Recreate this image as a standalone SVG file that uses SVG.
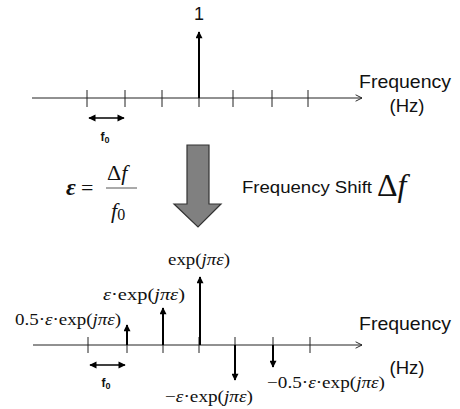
<svg xmlns="http://www.w3.org/2000/svg" width="460" height="409" viewBox="0 0 460 409">
<defs>
<marker id="tri" viewBox="0 0 10 10" refX="9" refY="5" markerWidth="4.5" markerHeight="3.5" orient="auto" markerUnits="strokeWidth">
<path d="M0,0 L10,5 L0,10 z" fill="#000"/>
</marker>
<marker id="tri2" viewBox="0 0 10 10" refX="9" refY="5" markerWidth="5" markerHeight="4.5" orient="auto-start-reverse" markerUnits="strokeWidth">
<path d="M0,0 L10,5 L0,10 z" fill="#000"/>
</marker>
<marker id="open" viewBox="0 0 10 10" refX="10" refY="5" markerWidth="8" markerHeight="8" orient="auto" markerUnits="userSpaceOnUse">
<path d="M2,1 L10,5 L2,9" fill="none" stroke="#222" stroke-width="1.2"/>
</marker>
</defs>
<style>
.axis{stroke:#222;stroke-width:1;fill:none}
.tick{stroke:#222;stroke-width:1}
.imp{stroke:#000;stroke-width:2;fill:none}
.dbl{stroke:#000;stroke-width:1.6;fill:none}
.sans{font-family:"Liberation Sans",Arial,sans-serif;fill:#111}
.math{font-family:"Liberation Serif","Times New Roman",serif;fill:#111}
.it{font-style:italic}
</style>
<rect width="460" height="409" fill="#fff"/>

<g id="top-spectrum">
<line class="axis" x1="32" y1="98" x2="362" y2="98" marker-end="url(#open)"/>
<g class="tick">
<line x1="87" y1="90" x2="87" y2="107"/>
<line x1="125" y1="90" x2="125" y2="107"/>
<line x1="162" y1="90" x2="162" y2="107"/>
<line x1="199" y1="90" x2="199" y2="107"/>
<line x1="233" y1="90" x2="233" y2="107"/>
<line x1="272" y1="90" x2="272" y2="107"/>
<line x1="308" y1="90" x2="308" y2="107"/>
</g>
<line class="imp" x1="199" y1="98" x2="199" y2="32" marker-end="url(#tri)"/>
<text class="sans" x="199" y="20" font-size="18" text-anchor="middle">1</text>
<text class="sans" x="359" y="88" font-size="18.5" textLength="92" lengthAdjust="spacingAndGlyphs">Frequency</text>
<text class="sans" x="407" y="112" font-size="18.5" text-anchor="middle">(Hz)</text>
<line class="dbl" x1="89" y1="118" x2="124" y2="118" marker-start="url(#tri2)" marker-end="url(#tri2)"/>
<text class="sans" x="105" y="141" font-size="12" font-weight="bold" text-anchor="middle">f<tspan font-size="9" dy="2">0</tspan></text>
</g>

<g id="formula">
<text class="math it" x="66" y="195" font-size="24" font-weight="bold">ε</text>
<text class="math" x="81" y="195" font-size="22">=</text>
<text class="math" x="107" y="180" font-size="22">Δ<tspan class="it">f</tspan></text>
<line x1="106" y1="188" x2="137" y2="188" stroke="#555" stroke-width="1"/>
<text class="math" x="111" y="218" font-size="22"><tspan class="it">f</tspan><tspan font-size="16" dy="2">0</tspan></text>
</g>

<g id="shift-arrow">
<path d="M187,145 L209,145 L209,204 L221,204 L198,227 L174,204 L187,204 Z" fill="#808080" stroke="#333" stroke-width="1.2"/>
</g>

<g id="shift-label">
<text class="sans" x="242" y="193" font-size="16" textLength="130" lengthAdjust="spacingAndGlyphs">Frequency Shift</text>
<text class="math" x="377" y="196" font-size="32">Δ<tspan class="it">f</tspan></text>
</g>

<g id="bottom-spectrum">
<line class="axis" x1="33" y1="345" x2="362" y2="345" marker-end="url(#open)"/>
<g class="tick">
<line x1="88" y1="337" x2="88" y2="353"/>
<line x1="127" y1="337" x2="127" y2="353"/>
<line x1="163" y1="337" x2="163" y2="353"/>
<line x1="199" y1="337" x2="199" y2="353"/>
<line x1="235" y1="337" x2="235" y2="353"/>
<line x1="273" y1="337" x2="273" y2="353"/>
<line x1="310" y1="337" x2="310" y2="353"/>
</g>
<line class="imp" x1="127" y1="345" x2="127" y2="325" marker-end="url(#tri)"/>
<line class="imp" x1="163" y1="345" x2="163" y2="308" marker-end="url(#tri)"/>
<line class="imp" x1="200" y1="345" x2="200" y2="277" marker-end="url(#tri)"/>
<line class="imp" x1="235" y1="345" x2="235" y2="380" marker-end="url(#tri)"/>
<line class="imp" x1="273" y1="345" x2="273" y2="367" marker-end="url(#tri)"/>
<text class="sans" x="359" y="330" font-size="18.5" textLength="92" lengthAdjust="spacingAndGlyphs">Frequency</text>
<text class="sans" x="407" y="374" font-size="18.5" text-anchor="middle">(Hz)</text>
<line class="dbl" x1="90" y1="365" x2="125" y2="365" marker-start="url(#tri2)" marker-end="url(#tri2)"/>
<text class="sans" x="106" y="387" font-size="12" font-weight="bold" text-anchor="middle">f<tspan font-size="9" dy="2">0</tspan></text>

<text class="math" x="168" y="265" font-size="17.5" textLength="62" lengthAdjust="spacingAndGlyphs">exp(<tspan class="it">jπε</tspan>)</text>
<text class="math" x="103" y="300" font-size="17.5" textLength="82" lengthAdjust="spacingAndGlyphs"><tspan class="it">ε</tspan>·exp(<tspan class="it">jπε</tspan>)</text>
<text class="math" x="15" y="325" font-size="17.5" textLength="106" lengthAdjust="spacingAndGlyphs">0.5·<tspan class="it">ε</tspan>·exp(<tspan class="it">jπε</tspan>)</text>
<text class="math" x="267" y="388" font-size="17.5" textLength="118" lengthAdjust="spacingAndGlyphs">−0.5·<tspan class="it">ε</tspan>·exp(<tspan class="it">jπε</tspan>)</text>
<text class="math" x="165" y="402" font-size="17.5" textLength="88" lengthAdjust="spacingAndGlyphs">−<tspan class="it">ε</tspan>·exp(<tspan class="it">jπε</tspan>)</text>
</g>
</svg>
